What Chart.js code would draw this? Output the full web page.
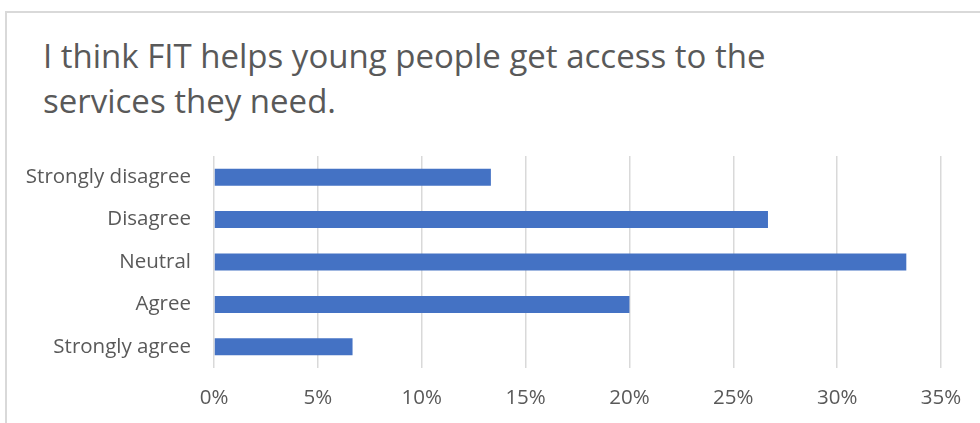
<!DOCTYPE html>
<html>
<head>
<meta charset="utf-8">
<script src="https://cdn.jsdelivr.net/npm/chart.js@4.4.0/dist/chart.umd.min.js"></script>
<style>
  html, body { margin: 0; padding: 0; background: #ffffff; }
  body { width: 980px; height: 423px; position: relative; overflow: hidden; }
  #frame { position: absolute; left: 5px; top: 11px; width: 1000px; height: 500px;
           border-left: 2px solid #d9d9d9; border-top: 2px solid #d9d9d9; box-sizing: border-box; }
  #title { position: absolute; left: 43px; top: 33px; width: 900px;
           font-family: "Open Sans", sans-serif; font-size: 33px; line-height: 45px;
           color: #595959; white-space: nowrap; }
  #wrap { position: absolute; left: 0; top: 0; width: 980px; height: 423px; }
</style>
</head>
<body>
<div id="frame"></div>
<div id="title">I think FIT helps young people get access to the<br>services they need.</div>
<div id="wrap"><canvas id="c" width="980" height="423"></canvas></div>
<script>
const categories = ["Strongly disagree", "Disagree", "Neutral", "Agree", "Strongly agree"];
const values = [13.33, 26.67, 33.33, 20.0, 6.67];
const tickValues = [0, 5, 10, 15, 20, 25, 30, 35];

new Chart(document.getElementById('c'), {
  type: 'bar',
  data: {
    labels: categories,
    datasets: [{
      data: values,
      backgroundColor: '#4472C4',
      borderWidth: 0,
      barPercentage: 0.4,
      categoryPercentage: 1.0
    }]
  },
  options: {
    indexAxis: 'y',
    responsive: false,
    animation: false,
    layout: { padding: { top: 156, right: 39, bottom: 0, left: 0 } },
    plugins: { legend: { display: false }, tooltip: { enabled: false }, title: { display: false } },
    scales: {
      x: {
        min: 0, max: 35,
        afterBuildTicks: s => { s.ticks = tickValues.map(v => ({ value: v })); },
        afterFit: s => { s.height = 55; },
        ticks: {
          callback: v => v + '%',
          color: '#595959',
          font: { family: '"Open Sans", sans-serif', size: 20.5 },
          padding: 18,
          maxRotation: 0
        },
        grid: { color: '#d9d9d9', lineWidth: 1.5, drawTicks: false },
        border: { display: false }
      },
      y: {
        afterFit: s => { s.width = 214; },
        ticks: {
          color: '#595959',
          font: { family: '"Open Sans", sans-serif', size: 20.5 },
          padding: 23
        },
        grid: { display: false, drawTicks: false },
        border: { display: false }
      }
    }
  }
});
</script>
</body>
</html>
